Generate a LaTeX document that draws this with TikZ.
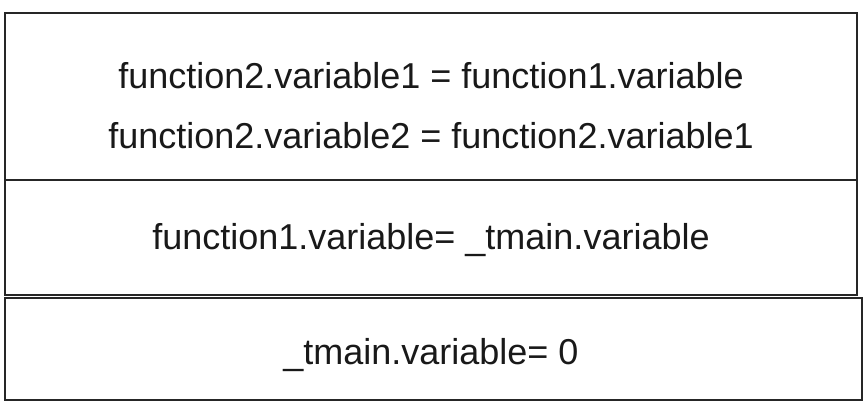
\documentclass[tikz,border=0pt]{standalone}
\usepackage{fontspec}
\setmainfont{Liberation Sans}
\begin{document}
\begin{tikzpicture}[x=1pt,y=-1pt,
  layer/.style={draw=black!85,line width=2.2pt,fill=white},
  lbl/.style={font=\fontsize{36}{43}\selectfont,text=black!90,inner sep=0pt,anchor=base}]
\useasboundingbox (0,0) rectangle (865,405);
\draw[layer] (5,13) rectangle (857,180);
\draw[layer] (5,180) rectangle (857,295);
\draw[layer] (5,298) rectangle (862,400);
\node[lbl] (a) at (431,88) {function2.variable1 = function1.variable};
\node[lbl] (b) at (431,148) {function2.variable2 = function2.variable1};
\node[lbl] (c) at (431,249) {function1.variable= \_tmain.variable};
\node[lbl] (d) at (431,364) {\_tmain.variable= 0};
\end{tikzpicture}
\end{document}
